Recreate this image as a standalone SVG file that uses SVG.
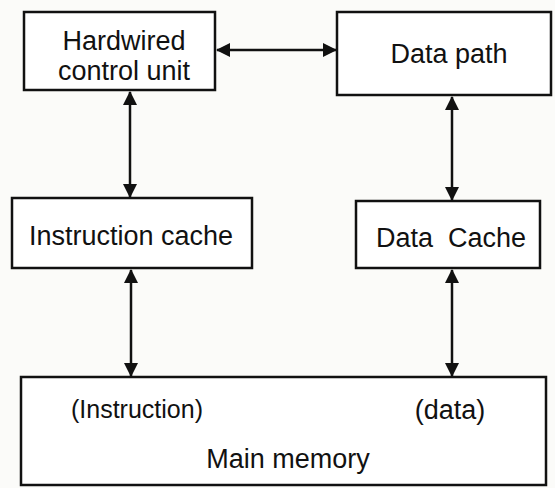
<svg xmlns="http://www.w3.org/2000/svg" width="555" height="488" viewBox="0 0 555 488">
<style>
.box{fill:#fff;stroke:#111;stroke-width:2.5}
.t{font-family:"Liberation Sans",Arial,sans-serif;font-size:27px;fill:#111;text-anchor:middle}
.c{stroke:#111;stroke-width:2.5;fill:none;marker-start:url(#ah);marker-end:url(#ah)}
</style>
<defs>
<marker id="ah" viewBox="0 0 14 14" refX="13" refY="7" markerWidth="14" markerHeight="14" markerUnits="userSpaceOnUse" orient="auto-start-reverse">
<path d="M0,0 L14,7 L0,14 Z" fill="#111"/>
</marker>
</defs>
<rect width="555" height="488" fill="#fbfbf9"/>
<g id="hardwired">
<rect class="box" x="24" y="12" width="191" height="78"/>
<text class="t" x="124" y="50">Hardwired</text>
<text class="t" x="124" y="80">control unit</text>
</g>
<g id="datapath">
<rect class="box" x="337" y="12" width="214" height="83"/>
<text class="t" x="449" y="63">Data path</text>
</g>
<g id="icache">
<rect class="box" x="12" y="198" width="240" height="70"/>
<text class="t" x="131" y="245">Instruction cache</text>
</g>
<g id="dcache">
<rect class="box" x="356" y="201" width="184" height="67"/>
<text class="t" x="451" y="247" xml:space="preserve">Data  Cache</text>
</g>
<g id="mainmem">
<rect class="box" x="21" y="377" width="525" height="108"/>
<text class="t" x="137" y="418" style="font-size:25px">(Instruction)</text>
<text class="t" x="450" y="419">(data)</text>
<text class="t" x="288" y="468">Main memory</text>
</g>
<g id="connectors">
<line class="c" x1="217" y1="50" x2="336" y2="50"/>
<line class="c" x1="130" y1="92" x2="130" y2="197"/>
<line class="c" x1="452" y1="97" x2="452" y2="200"/>
<line class="c" x1="131" y1="270" x2="131" y2="376"/>
<line class="c" x1="452" y1="270" x2="452" y2="376"/>
</g>
</svg>
